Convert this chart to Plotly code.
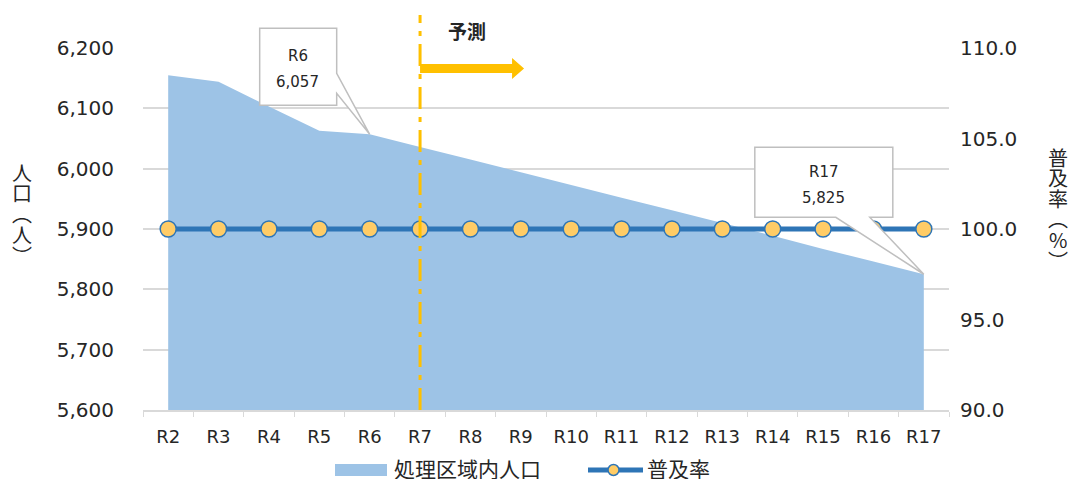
import plotly.graph_objects as go

# 年度（令和）
years = ["R2", "R3", "R4", "R5", "R6", "R7", "R8", "R9",
         "R10", "R11", "R12", "R13", "R14", "R15", "R16", "R17"]
# 処理区域内人口（人）
population = [6155, 6144, 6103, 6063, 6057, 6036, 6015, 5994,
              5973, 5952, 5931, 5910, 5889, 5867, 5846, 5825]
# 普及率（%）
coverage = [100.0, 100.0, 100.0, 100.0, 100.0, 100.0, 100.0, 100.0,
            100.0, 100.0, 100.0, 100.0, 100.0, 100.0, 100.0, 100.0]

left_ticks = [5600, 5700, 5800, 5900, 6000, 6100, 6200]
right_ticks = [90, 95, 100, 105, 110]
forecast_start = "R7"
pop_name = "処理区域内人口"
rate_name = "普及率"

FONT = "DejaVu Sans, Noto Sans CJK JP, sans-serif"
JP_FONT = "Noto Sans CJK JP, DejaVu Sans, sans-serif"
TEXT = "#262626"
GRID = "#D9D9D9"
AREA = "#9DC3E6"
LINE = "#2E75B6"
MARK = "#FFCC66"
ORANGE = "#FFC000"

y_min, y_max = left_ticks[0], left_ticks[-1]

fig = go.Figure()

fig.add_trace(go.Scatter(
    x=years, y=population, name=pop_name,
    mode="none", fill="tozeroy", fillcolor=AREA, yaxis="y",
))
fig.add_trace(go.Scatter(
    x=years, y=coverage, name=rate_name, yaxis="y2",
    mode="lines+markers",
    line=dict(color=LINE, width=5),
    marker=dict(size=16, color=MARK, line=dict(color=LINE, width=1.5)),
))

shapes = []
annotations = []

# 予測開始の区切り線
shapes.append(dict(
    type="line", xref="x", yref="paper",
    x0=forecast_start, x1=forecast_start, y0=0, y1=1.091,
    line=dict(color=ORANGE, width=3, dash="22px,8px,5px,8px"),
    layer="above",
))
# 予測方向の矢印
shapes.append(dict(
    type="path", xref="x", yref="paper",
    xsizemode="pixel", ysizemode="pixel",
    xanchor=forecast_start, yanchor=1,
    path="M 0,-16 L 92,-16 L 92,-10 L 104,-20.5 L 92,-31 L 92,-25 L 0,-25 Z",
    fillcolor=ORANGE, line=dict(width=0), layer="above",
))
annotations.append(dict(
    xref="x", yref="paper", x=forecast_start, y=1, xshift=47, yshift=18,
    xanchor="center", yanchor="middle",
    text="<b>予測</b>", showarrow=False,
    font=dict(family=JP_FONT, size=19, color=TEXT),
))

# 吹き出し（R6, R17）
callouts = [
    dict(idx=years.index("R6"),
         path="M -110,106 L -33,106 L -33,61 L 0,0 L -33,41 L -33,29 L -110,29 Z",
         dx=-72, dy_top=78, dy_bot=52),
    dict(idx=years.index("R17"),
         path="M -169,127 L -31,127 L -31,57 L -54,57 L 0,0 L -88,57 L -169,57 Z",
         dx=-100, dy_top=102, dy_bot=76),
]
for c in callouts:
    i = c["idx"]
    frac = (population[i] - y_min) / (y_max - y_min)
    shapes.append(dict(
        type="path", xref="x", yref="paper",
        xsizemode="pixel", ysizemode="pixel",
        xanchor=years[i], yanchor=frac,
        path=c["path"], fillcolor="white",
        line=dict(color="#BFBFBF", width=1.5), layer="above",
    ))
    for dy, txt in ((c["dy_top"], years[i]), (c["dy_bot"], f"{population[i]:,}")):
        annotations.append(dict(
            xref="x", yref="paper", x=years[i], y=frac,
            xshift=c["dx"], yshift=dy, xanchor="center", yanchor="middle",
            text=txt, showarrow=False,
            font=dict(family=FONT, size=15, color=TEXT),
        ))

# 縦書きの軸タイトル（1文字ずつ配置、位置は作図領域左上からのピクセル）
def vertical_title(chars, x_off, y_top, pitch):
    for k, ch in enumerate(chars):
        annotations.append(dict(
            xref="paper", yref="paper", x=0, y=1,
            xshift=x_off, yshift=-(y_top + k * pitch),
            xanchor="center", yanchor="middle", height=pitch,
            text=ch, showarrow=False,
            font=dict(family=JP_FONT, size=20, color=TEXT),
        ))

vertical_title(["人", "口", "︵", "人", "︶"], -121, 124, 20.8)
vertical_title(["普", "及", "率", "︵", "%", "︶"], 915, 109, 20.6)

# 凡例（作図領域左下からのピクセル）
shapes.append(dict(
    type="rect", xref="paper", yref="paper",
    xsizemode="pixel", ysizemode="pixel", xanchor=0, yanchor=0,
    x0=192, x1=244, y0=-54, y1=-66,
    fillcolor=AREA, line=dict(width=0),
))
shapes.append(dict(
    type="line", xref="paper", yref="paper",
    xsizemode="pixel", ysizemode="pixel", xanchor=0, yanchor=0,
    x0=445, x1=500, y0=-60, y1=-60,
    line=dict(color=LINE, width=5),
))
shapes.append(dict(
    type="circle", xref="paper", yref="paper",
    xsizemode="pixel", ysizemode="pixel", xanchor=0, yanchor=0,
    x0=465, x1=476, y0=-54.5, y1=-65.5,
    fillcolor=MARK, line=dict(color=LINE, width=1.5),
))
for x_off, txt in ((249, pop_name), (502, rate_name)):
    annotations.append(dict(
        xref="paper", yref="paper", x=0, y=0,
        xshift=x_off, yshift=-58, xanchor="left", yanchor="middle",
        height=22, text=txt, showarrow=False,
        font=dict(family=JP_FONT, size=21, color=TEXT),
    ))

fig.update_layout(
    width=1072, height=480,
    margin=dict(l=143, r=123, t=48, b=70, autoexpand=False),
    paper_bgcolor="white", plot_bgcolor="white",
    font=dict(family=FONT, color=TEXT),
    showlegend=False,
    xaxis=dict(
        type="category", range=[-0.5, 15.5],
        tickson="boundaries", ticks="outside", ticklen=5, tickcolor=GRID,
        showline=True, linecolor=GRID, linewidth=1.5,
        showgrid=False, zeroline=False,
        tickfont=dict(size=18, color=TEXT), ticklabelstandoff=10,
    ),
    yaxis=dict(
        range=[y_min, y_max], tickvals=left_ticks, tickformat=",",
        showgrid=True, gridcolor=GRID, gridwidth=1.5,
        zeroline=False, showline=False, ticks="",
        tickfont=dict(size=20, color=TEXT), ticklabelstandoff=28,
    ),
    yaxis2=dict(
        overlaying="y", side="right",
        range=[right_ticks[0], right_ticks[-1]], tickvals=right_ticks,
        tickformat=".1f",
        showgrid=False, zeroline=False, showline=False, ticks="",
        tickfont=dict(size=20, color=TEXT), ticklabelstandoff=10,
    ),
    shapes=shapes,
    annotations=annotations,
)

fig.write_html("out.html")
